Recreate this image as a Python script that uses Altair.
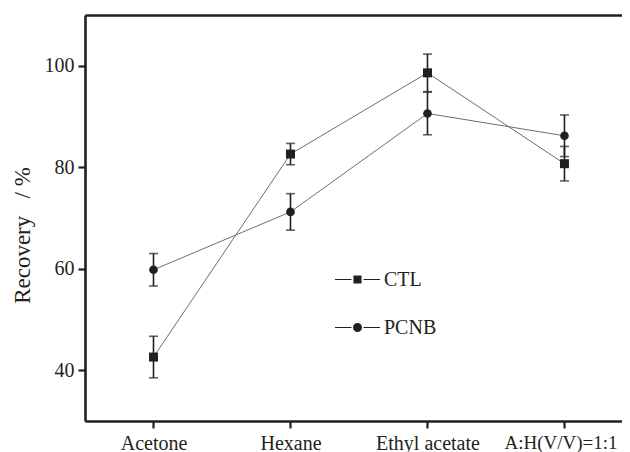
import json
import altair as alt
import pandas as pd

# ---- data ----
categories = ["Acetone", "Hexane", "Ethyl acetate", "A:H(V/V)=1:1"]
series_names = ["CTL", "PCNB"]
ctl_values = [42.6, 82.6, 98.6, 80.7]
ctl_errors = [4.1, 2.1, 3.7, 3.4]
pcnb_values = [59.8, 71.2, 90.6, 86.2]
pcnb_errors = [3.2, 3.6, 4.2, 4.1]
y_ticks = [40, 60, 80, 100]

rows = []
for name, vals, errs in [("CTL", ctl_values, ctl_errors), ("PCNB", pcnb_values, pcnb_errors)]:
    for i, (c, v, e) in enumerate(zip(categories, vals, errs)):
        rows.append({"series": name, "category": c, "idx": i, "value": v, "err": e})
df = pd.DataFrame(rows)

INK = "#231f20"
LINE = "#6d6e71"
FONT = "Liberation Serif, Times New Roman, serif"

label_expr = json.dumps(categories) + "[datum.value]"
last_idx = len(categories) - 1
x_scale = alt.Scale(domain=[-0.5, 3.42], nice=False, zero=False)
y_scale = alt.Scale(domain=[30, 110], nice=False, zero=False)

x_bottom = alt.X(
    "idx:Q", scale=x_scale,
    axis=alt.Axis(values=list(range(len(categories))), labelExpr=label_expr, title=None,
                  grid=False, domainWidth=2.6, domainColor=INK, tickSize=7, tickWidth=2.2,
                  tickColor=INK, labelFont=FONT, labelColor=INK,
                  labelFontSize=alt.expr(f"datum.value == {last_idx} ? 19 : 20"),
                  labelOffset=alt.expr(f"datum.value == {last_idx} ? -4 : 0"),
                  labelPadding=5, labelOverlap=False, labelFlush=False),
)
x_top = alt.X(
    "idx:Q", scale=x_scale,
    axis=alt.Axis(orient="top", labels=False, ticks=False, title=None, grid=False,
                  domainWidth=2.6, domainColor=INK),
)
x_none = alt.X("idx:Q", scale=x_scale, axis=None)

y_axis = alt.Axis(values=y_ticks, title="Recovery\u00a0\u00a0\u00a0/ %", grid=False,
                  domainWidth=2.6, domainColor=INK, tickSize=7, tickWidth=2.2, tickColor=INK,
                  labelFontSize=20, labelFont=FONT, labelColor=INK, labelPadding=4,
                  titleFont=FONT, titleFontSize=23, titleFontWeight="normal", titleColor=INK,
                  titleX=-63, titleY=220, titleAngle=270, titleBaseline="middle")


def y_of(field):
    return alt.Y(f"{field}:Q", scale=y_scale, axis=y_axis)


base = alt.Chart(df)

lines = base.mark_line(color=LINE, strokeWidth=1).encode(
    x=x_top, y=y_of("value"), detail="series:N", order="idx:Q"
)

err_base = base.transform_calculate(lo="datum.value - datum.err", hi="datum.value + datum.err")
err_rules = err_base.mark_rule(color=INK, strokeWidth=1.6).encode(
    x=x_none, y=y_of("lo"), y2="hi:Q"
)
cap_lo = err_base.mark_tick(color=INK, thickness=1.6, size=9, orient="horizontal").encode(
    x=x_none, y=y_of("lo")
)
cap_hi = err_base.mark_tick(color=INK, thickness=1.6, size=9, orient="horizontal").encode(
    x=x_none, y=y_of("hi")
)

points = base.mark_point(filled=True, opacity=1, color=INK).encode(
    x=x_bottom, y=y_of("value"),
    shape=alt.Shape("series:N", scale=alt.Scale(domain=series_names, range=["square", "circle"]),
                    legend=None),
    size=alt.Size("series:N", scale=alt.Scale(domain=series_names, range=[81, 75]), legend=None),
)

# legend symbols "—■—" and "—●—" drawn as filled shapes (thin bars for the line tails)
tails = "M-1,-0.025L-0.27,-0.025L-0.27,0.025L-1,0.025ZM0.27,-0.025L1,-0.025L1,0.025L0.27,0.025Z"
sq_path = tails + "M-0.18,-0.18L0.18,-0.18L0.18,0.18L-0.18,0.18Z"
ci_path = tails + "M-0.2,0A0.2,0.2,0,1,0,0.2,0A0.2,0.2,0,1,0,-0.2,0Z"

legend_layer = (
    base.transform_calculate(legend_series="datum.series")
    .transform_filter("datum.value > 1000")
    .mark_point(filled=True, opacity=1, color=INK, size=2025)
    .encode(
        x=x_none, y=y_of("value"),
        shape=alt.Shape(
            "legend_series:N",
            scale=alt.Scale(domain=series_names, range=[sq_path, ci_path]),
            legend=alt.Legend(
                title=None, orient="none", legendX=250, legendY=242, padding=0,
                symbolSize=2025, symbolFillColor=INK, symbolStrokeWidth=0,
                symbolOpacity=1, rowPadding=15, labelOffset=4,
                labelFont=FONT, labelFontSize=20, labelColor=INK, labelBaseline="middle",
            ),
        ),
    )
)

chart = (
    alt.layer(lines, err_rules, cap_lo, cap_hi, points, legend_layer)
    .resolve_axis(x="independent")
    .resolve_scale(shape="independent", size="independent")
    .properties(
        width=537, height=406,
        autosize=alt.AutoSizeParams(type="none"),
        padding={"left": 77, "top": 7, "right": 0, "bottom": 31},
    )
    .configure_view(stroke=None)
    .configure(background="white", font=FONT)
)

chart.save("out.html", embed_options={"renderer": "svg", "actions": False})
